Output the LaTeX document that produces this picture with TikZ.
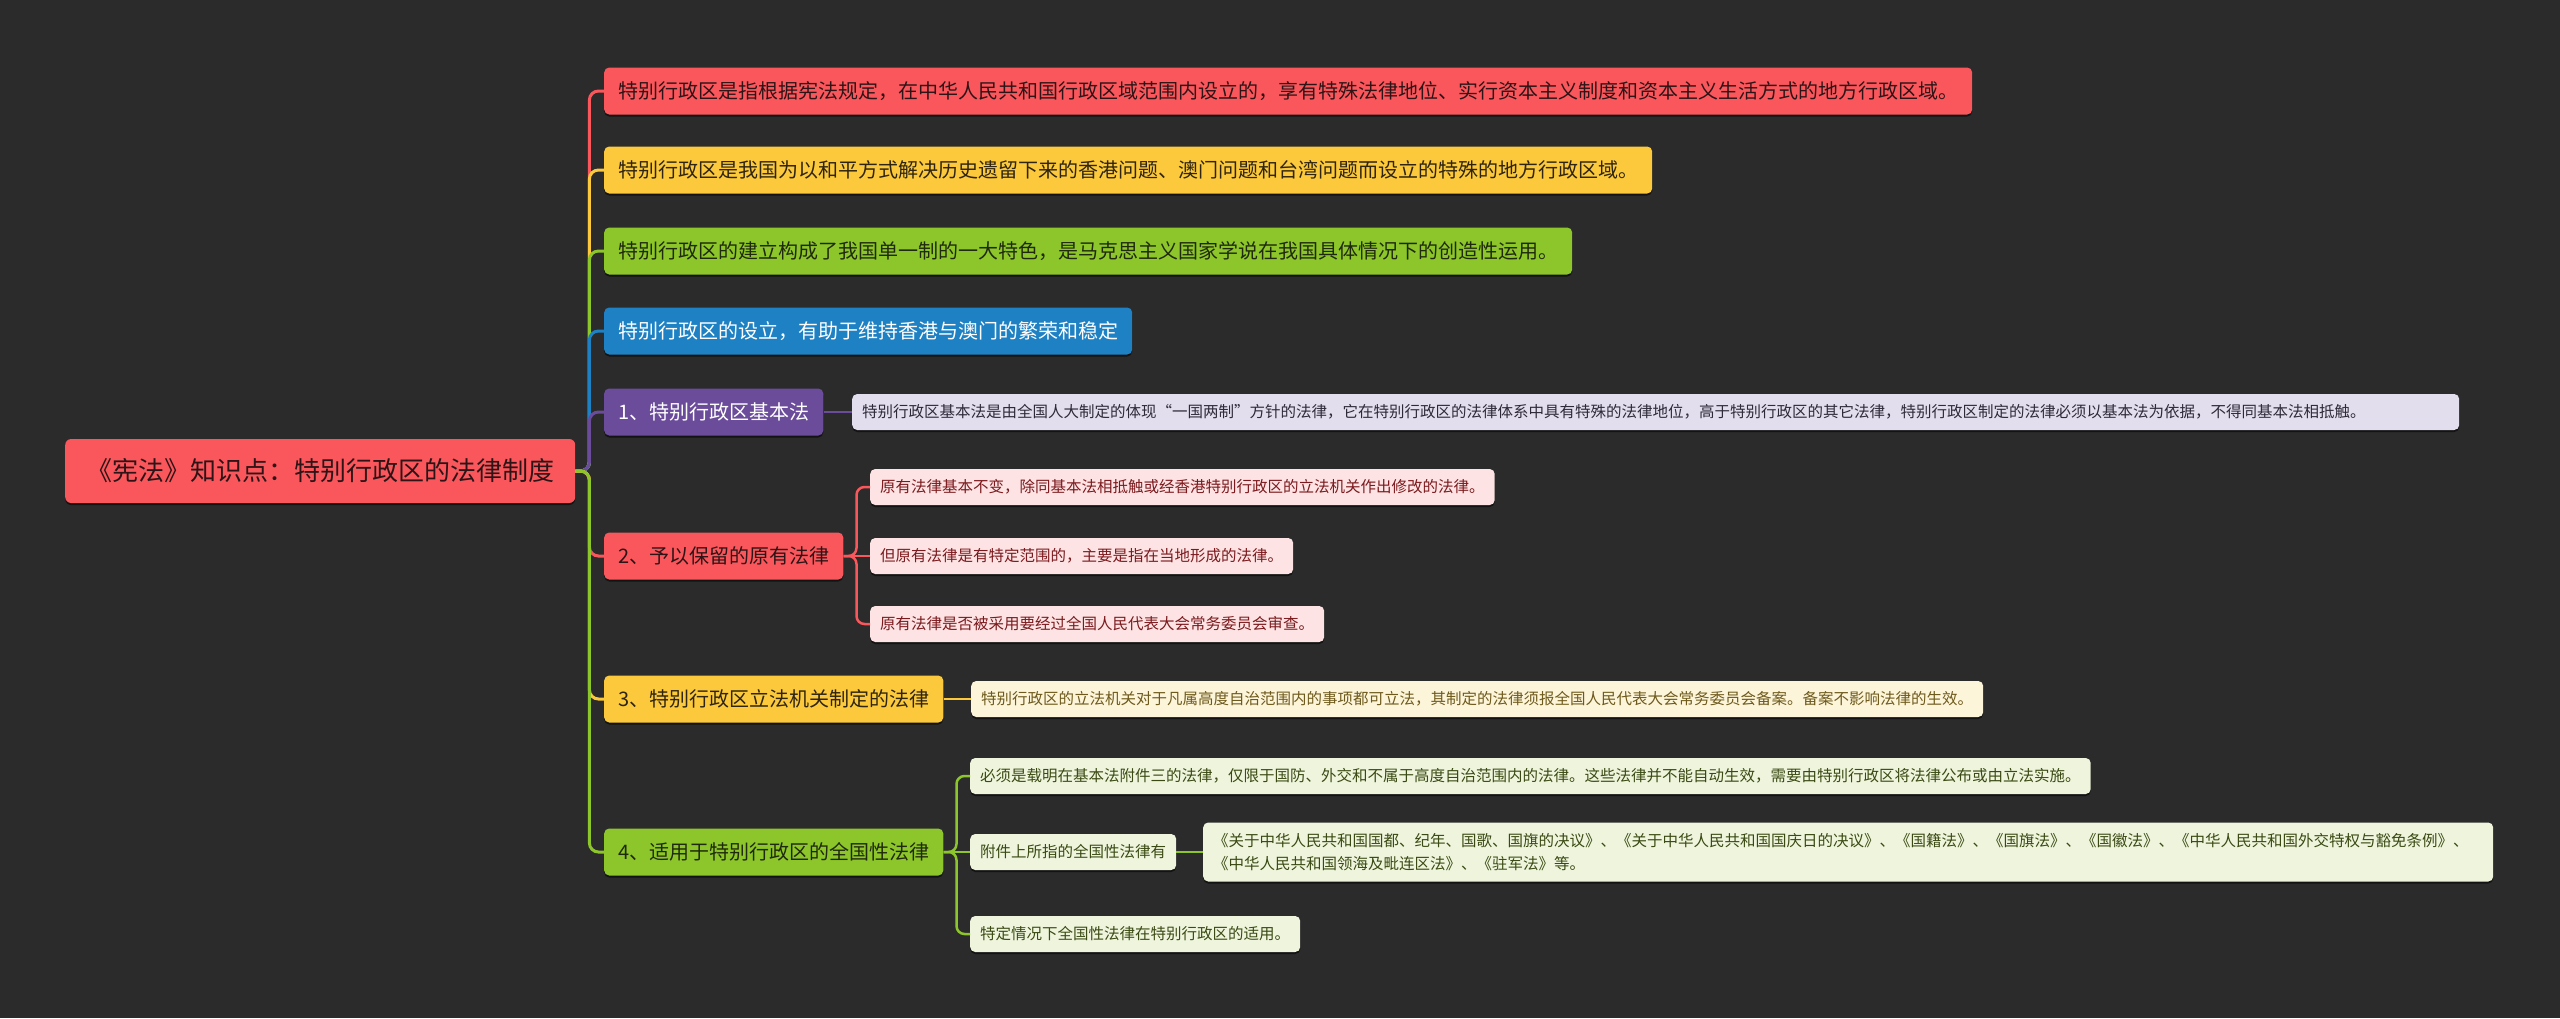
\documentclass[tikz,border=0pt]{standalone}
\usepackage{fontspec}
\newfontfamily\cjk{Noto Sans CJK SC}
\usetikzlibrary{shadows}

\definecolor{bgc}{HTML}{2B2B2B}
\definecolor{cred}{HTML}{F9575C}
\definecolor{cyel}{HTML}{FBC93B}
\definecolor{cgrn}{HTML}{8DC62B}
\definecolor{cblu}{HTML}{1E81C4}
\definecolor{cpur}{HTML}{6B4C9A}
\definecolor{lred}{HTML}{FDE3E3}
\definecolor{lyel}{HTML}{FDF5DA}
\definecolor{lgrn}{HTML}{EEF5DC}
\definecolor{lpur}{HTML}{E2DEEE}
\definecolor{tred}{HTML}{2E1416}
\definecolor{tyel}{HTML}{2E2410}
\definecolor{tgrn}{HTML}{1F2A0C}
\definecolor{dred}{HTML}{7B1A1E}
\definecolor{dyel}{HTML}{6E5A1C}
\definecolor{dgrn}{HTML}{3B4A14}
\definecolor{dpur}{HTML}{2F2A3A}

\begin{document}
\begin{tikzpicture}[
            x=1pt, y=-1pt,
            rootnd/.style={anchor=west, rounded corners=6pt, fill=cred, text=tred,
                font=\cjk\fontsize{26}{30}\selectfont, minimum height=64pt,
                inner xsep=21pt, inner ysep=0pt, shd},
            brnd/.style={anchor=west, rounded corners=5pt,
                font=\cjk\fontsize{20}{24}\selectfont, minimum height=47pt,
                inner xsep=14pt, inner ysep=0pt, shd},
            lfnd/.style={anchor=west, rounded corners=5pt,
                font=\cjk\fontsize{15.5}{23}\selectfont, minimum height=36pt,
                inner xsep=10pt, inner ysep=0pt, shd},
            shd/.style={drop shadow={shadow xshift=0pt, shadow yshift=-2pt,
                shadow scale=1, fill=black, opacity=0.55}},
            cn/.style={line width=3pt, rounded corners=9pt},
            sc/.style={line width=2.5pt, rounded corners=8pt}
        ]
        \fill[bgc] (0,0) rectangle (2560,1018);

        % Central topic
        \node[rootnd] (root) at (65,471) {《宪法》知识点：特别行政区的法律制度};

        % First level
        \node[brnd, fill=cred, text=tred] (b1) at (604,91)  {特别行政区是指根据宪法规定，在中华人民共和国行政区域范围内设立的，享有特殊法律地位、实行资本主义制度和资本主义生活方式的地方行政区域。};
        \node[brnd, fill=cyel, text=tyel] (b2) at (604,170) {特别行政区是我国为以和平方式解决历史遗留下来的香港问题、澳门问题和台湾问题而设立的特殊的地方行政区域。};
        \node[brnd, fill=cgrn, text=tgrn] (b3) at (604,251) {特别行政区的建立构成了我国单一制的一大特色，是马克思主义国家学说在我国具体情况下的创造性运用。};
        \node[brnd, fill=cblu, text=white] (b4) at (604,331) {特别行政区的设立，有助于维持香港与澳门的繁荣和稳定};
        \node[brnd, fill=cpur, text=white] (b5) at (604,412) {1、特别行政区基本法};
        \node[brnd, fill=cred, text=tred] (b6) at (604,556) {2、予以保留的原有法律};
        \node[brnd, fill=cyel, text=tyel] (b7) at (604,699) {3、特别行政区立法机关制定的法律};
        \node[brnd, fill=cgrn, text=tgrn] (b8) at (604,852) {4、适用于特别行政区的全国性法律};

        % Second level
        \node[lfnd, fill=lpur, text=dpur, text width=1587pt, align=left] (l5) at (852,412) {特别行政区基本法是由全国人大制定的体现“一国两制”方针的法律，它在特别行政区的法律体系中具有特殊的法律地位，高于特别行政区的其它法律，特别行政区制定的法律必须以基本法为依据，不得同基本法相抵触。};
        \node[lfnd, fill=lred, text=dred] (l6a) at (870,487) {原有法律基本不变，除同基本法相抵触或经香港特别行政区的立法机关作出修改的法律。};
        \node[lfnd, fill=lred, text=dred] (l6b) at (870,556) {但原有法律是有特定范围的，主要是指在当地形成的法律。};
        \node[lfnd, fill=lred, text=dred] (l6c) at (870,624) {原有法律是否被采用要经过全国人民代表大会常务委员会审查。};
        \node[lfnd, fill=lyel, text=dyel] (l7) at (971,699) {特别行政区的立法机关对于凡属高度自治范围内的事项都可立法，其制定的法律须报全国人民代表大会常务委员会备案。备案不影响法律的生效。};
        \node[lfnd, fill=lgrn, text=dgrn] (l8a) at (970,776) {必须是载明在基本法附件三的法律，仅限于国防、外交和不属于高度自治范围内的法律。这些法律并不能自动生效，需要由特别行政区将法律公布或由立法实施。};
        \node[lfnd, fill=lgrn, text=dgrn] (l8b) at (970,852) {附件上所指的全国性法律有};
        \node[lfnd, fill=lgrn, text=dgrn] (l8c) at (970,934) {特定情况下全国性法律在特别行政区的适用。};

        % Third level
        \node[lfnd, fill=lgrn, text=dgrn, minimum height=59pt, text width=1270pt, align=left] (g8) at (1203,852) {《关于中华人民共和国国都、纪年、国歌、国旗的决议》、《关于中华人民共和国国庆日的决议》、《国籍法》、《国旗法》、《国徽法》、《中华人民共和国外交特权与豁免条例》、\\《中华人民共和国领海及毗连区法》、《驻军法》等。};

        % root -> first level
        \draw[cn, cred] (root.east) -- ++(14,0) |- (b1.west);
        \draw[cn, cyel] (root.east) -- ++(14,0) |- (b2.west);
        \draw[cn, cgrn] (root.east) -- ++(14,0) |- (b3.west);
        \draw[cn, cblu] (root.east) -- ++(14,0) |- (b4.west);
        \draw[cn, cpur] (root.east) -- ++(14,0) |- (b5.west);
        \draw[cn, cred] (root.east) -- ++(14,0) |- (b6.west);
        \draw[cn, cyel] (root.east) -- ++(14,0) |- (b7.west);
        \draw[cn, cgrn] (root.east) -- ++(14,0) |- (b8.west);

        % first -> second level
        \draw[sc, cpur] (b5.east) -- (l5.west);
        \draw[sc, cred] (b6.east) -- ++(13,0) |- (l6a.west);
        \draw[sc, cred] (b6.east) -- (l6b.west);
        \draw[sc, cred] (b6.east) -- ++(13,0) |- (l6c.west);
        \draw[sc, cyel] (b7.east) -- (l7.west);
        \draw[sc, cgrn] (b8.east) -- ++(13,0) |- (l8a.west);
        \draw[sc, cgrn] (b8.east) -- (l8b.west);
        \draw[sc, cgrn] (b8.east) -- ++(13,0) |- (l8c.west);
        \draw[sc, cgrn] (l8b.east) -- (g8.west);
    \end{tikzpicture}
\end{document}
